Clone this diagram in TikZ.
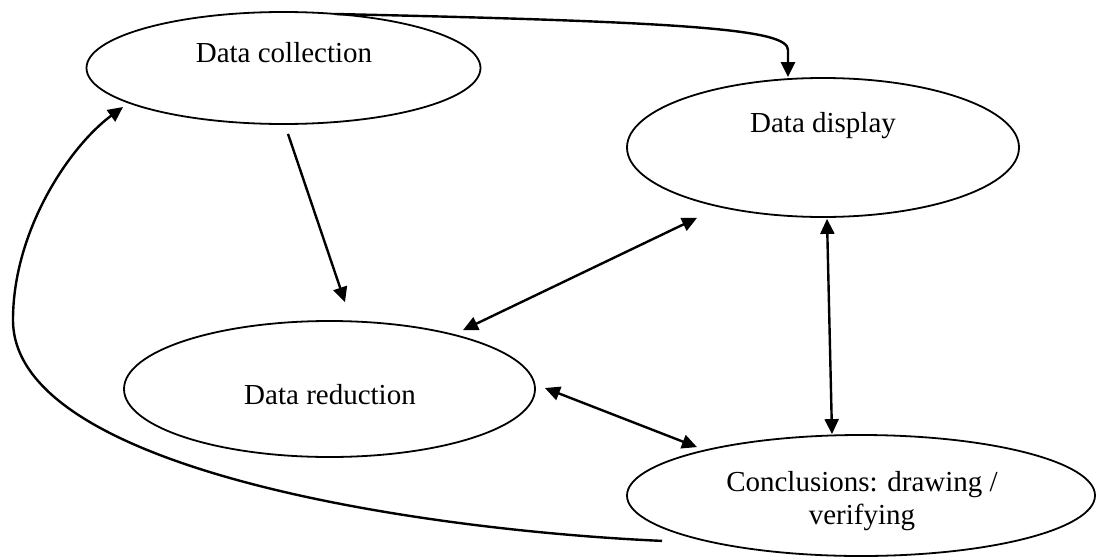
\documentclass[tikz,border=0pt]{standalone}
\usepackage{fontspec}
\setmainfont{Liberation Serif}
\usetikzlibrary{shapes.geometric,arrows.meta,calc}

\tikzset{
    oval/.style={draw,ellipse,line width=.9pt,inner sep=0pt},
    txt/.style={font=\fontsize{14.5}{16.5}\selectfont,align=center,inner sep=0pt},
    link/.style={line width=1.2pt},
}

\begin{document}
\begin{tikzpicture}[x=.5pt,y=-.5pt,>={Triangle[length=7.5pt,width=7pt]}]
        \useasboundingbox (0,0) rectangle (1097,557);
        % the four stages
        \node[oval,minimum width=197pt,minimum height=56pt] (coll) at (283.5,68) {};
        \node[oval,minimum width=196pt,minimum height=69.5pt] (disp) at (823,147.5) {};
        \node[oval,minimum width=205.5pt,minimum height=68pt] (red) at (329.5,389) {};
        \node[oval,minimum width=234pt,minimum height=60.5pt] (concl) at (861,495.5) {};
        \node[txt] (coll-t) at (284,53) {Data collection};
        \node[txt] (disp-t) at (823,126) {Data display};
        \node[txt] (red-t) at (330,395) {Data reduction};
        \node[txt] (concl-t) at (862,501) {Conclusions: drawing /\\verifying};
        % links
        \draw [link,->] ($(coll.center)+(51.5,-54)$) .. controls (700,22) and (788,30) .. (788,50) -- ($(disp.north)+(-35,0)$);
        \draw [link,->] ($(coll.south)+(4.5,9)$) -- ($(red.north)+(15.5,-18)$);
        \draw [link,<->] ($(disp.south)+(-126,0)$) -- ($(red.north)+(133.5,10)$);
        \draw [link,<->] ($(disp.south)+(4,1)$) -- ($(concl.north)+(-29,0)$);
        \draw [link,<->] ($(red.east)+(9,-1)$) -- ($(concl.north)+(-164,13)$);
        \draw [link,->] ($(concl.south)+(-199,-16)$) .. controls (420,530) and (13,470) .. (13,320)
            .. controls (13,230) and (70,146) .. ($(coll.center)+(-160.5,39)$);
    \end{tikzpicture}
\end{document}
